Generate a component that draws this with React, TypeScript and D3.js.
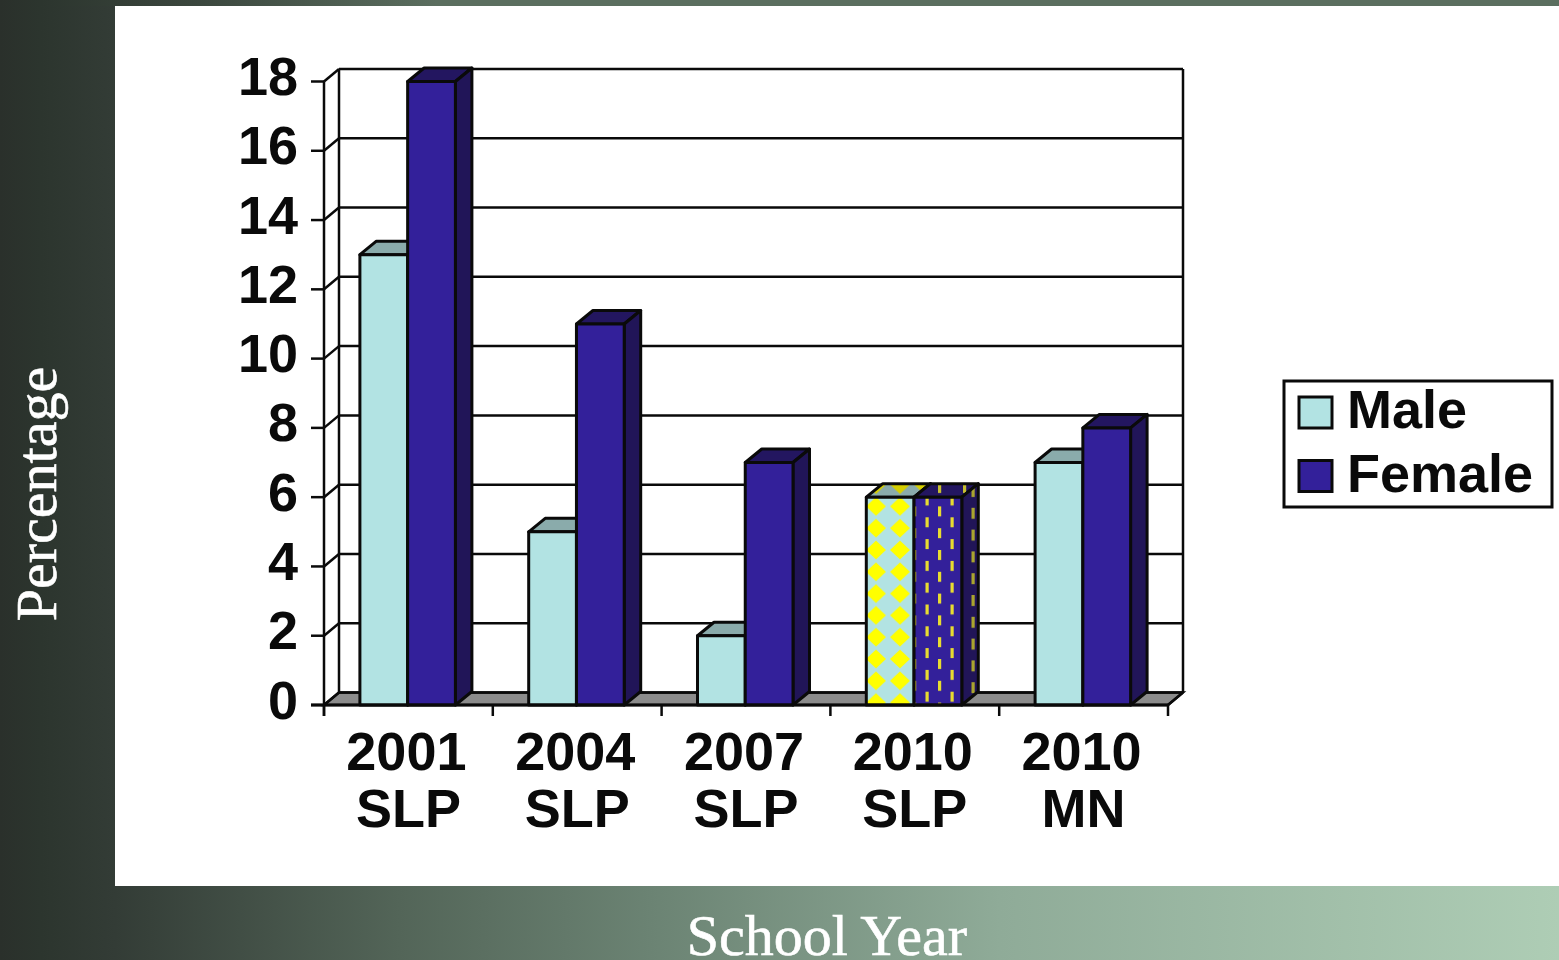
import React from "react";
import * as d3 from "d3";

// Survey results by school year, split by sex.
const categories = ["2001 SLP", "2004 SLP", "2007 SLP", "2010 SLP", "2010 MN"];
const maleValues = [13, 5, 2, 6, 7];
const femaleValues = [18, 11, 7, 6, 8];
const yTicks = [0, 2, 4, 6, 8, 10, 12, 14, 16, 18];
const seriesNames = ["Male", "Female"];
const patternedCategory = "2010 SLP";

const WIDTH = 1559;
const HEIGHT = 960;
const WALL_DX = 15;
const WALL_DY = 12.5;
const BAR_DX = 16.5;
const BAR_DY = 13.5;

const SANS = "'Liberation Sans', Arial, sans-serif";
const SERIF = "'Liberation Serif', serif";
const INK = "#0a0a0a";

const COLORS = {
  male: { front: "#b2e3e3", top: "#8aabab", side: "#8aabab" },
  female: { front: "#33209a", top: "#231660", side: "#211558" },
};

const x = d3.scaleBand<string>().domain(categories).range([324, 1168]);
const y = d3.scaleLinear().domain([0, 18]).range([705, 81.5]);
const series = d3.scaleBand<string>().domain(seriesNames).range([-47.5, 48]);

const poly = (pts: [number, number][]) => d3.line()(pts) + "Z";

function Bar({ left, width, value, front, top, side, frontFill, topFill, sideFill }: any) {
  const y0 = y(0);
  const y1 = y(value);
  const right = left + width;
  const strokeProps = { stroke: INK, strokeWidth: 3, strokeLinejoin: "round" as const };
  return (
    <g>
      <path
        d={poly([
          [left, y1],
          [left + BAR_DX, y1 - BAR_DY],
          [right + BAR_DX, y1 - BAR_DY],
          [right, y1],
        ])}
        fill={topFill ?? top}
        {...strokeProps}
      />
      <path
        d={poly([
          [right, y1],
          [right + BAR_DX, y1 - BAR_DY],
          [right + BAR_DX, y0 - BAR_DY],
          [right, y0],
        ])}
        fill={sideFill ?? side}
        {...strokeProps}
      />
      <rect x={left} y={y1} width={width} height={y0 - y1} fill={frontFill ?? front} {...strokeProps} />
    </g>
  );
}

export default function App() {
  const yLeft = 324;
  const yRight = x.range()[1];
  const y0 = y(0);
  const tickEdges = [...categories.map((c) => x(c) as number), yRight];

  return (
    <svg
      width={WIDTH}
      height={HEIGHT}
      viewBox={`0 0 ${WIDTH} ${HEIGHT}`}
      style={{ position: "absolute", left: 0, top: 0, display: "block" }}
    >
      <defs>
        <linearGradient id="bandBottom" gradientUnits="userSpaceOnUse" x1={0} x2={WIDTH} y1={0} y2={0}>
          <stop offset={0} stopColor="#2a302b" />
          <stop offset={0.026} stopColor="#2c352e" />
          <stop offset={0.074} stopColor="#333c36" />
          <stop offset={0.256} stopColor="#536558" />
          <stop offset={0.417} stopColor="#6b8373" />
          <stop offset={0.641} stopColor="#8fab98" />
          <stop offset={1} stopColor="#aecdb5" />
        </linearGradient>
        <linearGradient id="bandTop" gradientUnits="userSpaceOnUse" x1={0} x2={WIDTH} y1={0} y2={0}>
          <stop offset={0} stopColor="#2a302b" />
          <stop offset={0.026} stopColor="#2c352e" />
          <stop offset={0.128} stopColor="#3b473e" />
          <stop offset={0.28} stopColor="#5b6e5f" />
          <stop offset={1} stopColor="#5b6e5f" />
        </linearGradient>
        <pattern id="diamondFront" patternUnits="userSpaceOnUse" x={864} y={495.5} width={24} height={21.8}>
          <rect width={24} height={21.8} fill={COLORS.male.front} />
          <path d="M12,1.5 L22,10.9 L12,20.3 L2,10.9 Z" fill="#ffff00" />
        </pattern>
        <pattern id="diamondTop" patternUnits="userSpaceOnUse" x={864} y={473.7} width={24} height={21.8}>
          <rect width={24} height={21.8} fill={COLORS.male.top} />
          <path d="M12,1.5 L22,10.9 L12,20.3 L2,10.9 Z" fill="#d6cf00" />
        </pattern>
        <pattern id="dashFront" patternUnits="userSpaceOnUse" x={921} y={495.5} width={25} height={21.8}>
          <rect width={25} height={21.8} fill={COLORS.female.front} />
          <rect x={4.5} y={0} width={3.2} height={10} fill="#e8dc30" />
          <rect x={17} y={10.9} width={3.2} height={10} fill="#e8dc30" />
        </pattern>
        <pattern id="dashSide" patternUnits="userSpaceOnUse" x={966} y={486} width={15} height={21.8}>
          <rect width={15} height={21.8} fill={COLORS.female.side} />
          <rect x={5.5} y={0} width={3.2} height={11} fill="#aaa52e" />
        </pattern>
        <pattern id="dashTop" patternUnits="userSpaceOnUse" x={921} y={483} width={25} height={21.8}>
          <rect width={25} height={21.8} fill={COLORS.female.top} />
          <rect x={17} y={0} width={3.2} height={10} fill="#c8c030" />
        </pattern>
      </defs>

      {/* Slide background and bands */}
      <rect width={WIDTH} height={HEIGHT} fill="url(#bandBottom)" />
      <rect width={WIDTH} height={6} fill="url(#bandTop)" />
      <rect x={115} y={6} width={WIDTH - 115} height={880} fill="#ffffff" />

      {/* Chart floor */}
      <path
        d={poly([
          [yLeft, y0],
          [yLeft + WALL_DX, y0 - WALL_DY],
          [yRight + WALL_DX, y0 - WALL_DY],
          [yRight, y0],
        ])}
        fill="#8c8c8c"
        stroke={INK}
        strokeWidth={2.4}
      />

      {/* Back wall, gridlines and slanted tick connectors */}
      {yTicks.map((t) => (
        <g key={t} stroke={INK} strokeWidth={2.5} fill="none">
          <line x1={yLeft + WALL_DX} x2={yRight + WALL_DX} y1={y(t) - WALL_DY} y2={y(t) - WALL_DY} />
          <line x1={yLeft} x2={yLeft + WALL_DX} y1={y(t)} y2={y(t) - WALL_DY} />
          <line x1={yLeft - 13} x2={yLeft} y1={y(t)} y2={y(t)} />
        </g>
      ))}
      <g stroke={INK} strokeWidth={2.5}>
        <line x1={yLeft} x2={yLeft} y1={y(18)} y2={y0 + 11} />
        <line x1={yLeft + WALL_DX} x2={yLeft + WALL_DX} y1={y(18) - WALL_DY} y2={y0 - WALL_DY} />
        <line x1={yRight + WALL_DX} x2={yRight + WALL_DX} y1={y(18) - WALL_DY} y2={y0 - WALL_DY} />
        <line x1={yRight} x2={yRight + WALL_DX} y1={y0} y2={y0 - WALL_DY} />
      </g>

      {/* Bars */}
      {categories.map((c, i) => {
        const centre = (x(c) as number) + x.bandwidth() / 2 - 1;
        const patterned = c === patternedCategory;
        const w = series.bandwidth();
        return (
          <g key={c}>
            <Bar
              left={centre + (series("Male") as number)}
              width={w}
              value={maleValues[i]}
              {...COLORS.male}
              frontFill={patterned ? "url(#diamondFront)" : undefined}
              topFill={patterned ? "url(#diamondTop)" : undefined}
            />
            <Bar
              left={centre + (series("Female") as number)}
              width={w}
              value={femaleValues[i]}
              {...COLORS.female}
              frontFill={patterned ? "url(#dashFront)" : undefined}
              topFill={patterned ? "url(#dashTop)" : undefined}
              sideFill={patterned ? "url(#dashSide)" : undefined}
            />
          </g>
        );
      })}

      {/* Front edge of the floor and category ticks */}
      <line x1={yLeft - 13} x2={yRight} y1={y0} y2={y0} stroke={INK} strokeWidth={2.8} />
      {tickEdges.map((e) => (
        <line key={e} x1={e} x2={e} y1={y0} y2={y0 + 11} stroke={INK} strokeWidth={2.5} />
      ))}

      {/* Value axis labels */}
      {yTicks.map((t) => (
        <text
          key={t}
          x={298}
          y={y(t) + 13.5}
          textAnchor="end"
          fontFamily={SANS}
          fontWeight={700}
          fontSize={54}
          fill={INK}
        >
          {t}
        </text>
      ))}

      {/* Category labels, year above group */}
      {categories.map((c) => {
        const centre = (x(c) as number) + x.bandwidth() / 2 - 1;
        const [year, group] = c.split(" ");
        return (
          <g key={c} fontFamily={SANS} fontWeight={700} fontSize={54} fill={INK} textAnchor="middle">
            <text x={centre - 1} y={770}>{year}</text>
            <text x={centre + 1} y={827}>{group}</text>
          </g>
        );
      })}

      {/* Legend */}
      <rect x={1284} y={381} width={268} height={126} fill="#ffffff" stroke={INK} strokeWidth={3} />
      {seriesNames.map((name, i) => {
        const top = 397 + i * 63.5;
        const swatch = i === 0 ? COLORS.male.front : COLORS.female.front;
        return (
          <g key={name}>
            <rect x={1299} y={top} width={33} height={31} fill={swatch} stroke={INK} strokeWidth={3} />
            <text x={1347} y={top + 31} fontFamily={SANS} fontWeight={700} fontSize={54} fill={INK}>
              {name}
            </text>
          </g>
        );
      })}

      {/* Axis titles on the slide bands */}
      <text
        transform="translate(56,494) rotate(-90)"
        textAnchor="middle"
        fontFamily={SERIF}
        fontSize={58}
        fill="#ffffff"
        stroke="#ffffff"
        strokeWidth={0.6}
      >
        Percentage
      </text>
      <text
        x={827}
        y={955}
        textAnchor="middle"
        fontFamily={SERIF}
        fontSize={58}
        fill="#ffffff"
        stroke="#ffffff"
        strokeWidth={0.6}
      >
        School Year
      </text>
    </svg>
  );
}
